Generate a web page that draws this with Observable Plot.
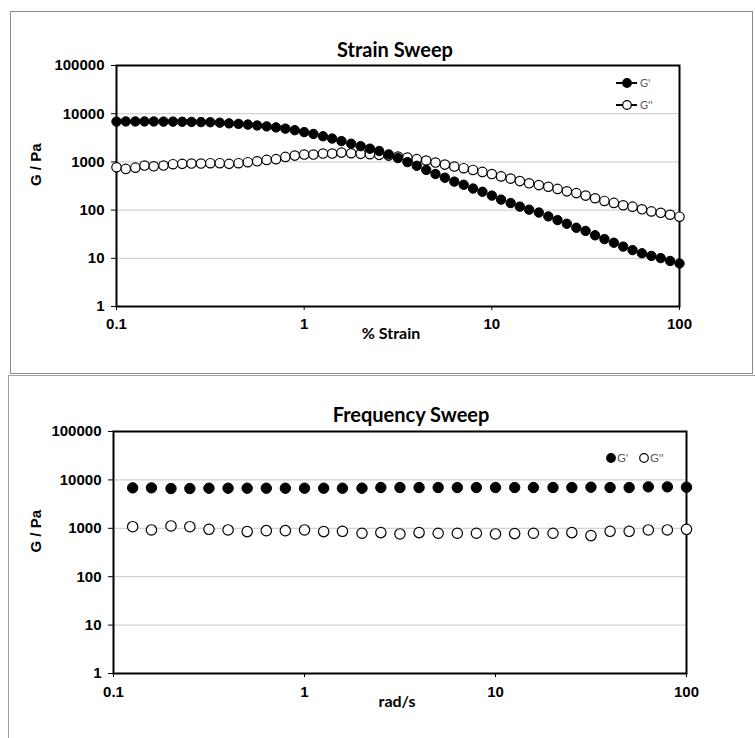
<!DOCTYPE html>
<html><head><meta charset="utf-8">
<script src="https://cdn.jsdelivr.net/npm/d3@7"></script>
<script src="https://cdn.jsdelivr.net/npm/@observablehq/plot@0.6"></script>
<style>
body{margin:0;background:#fff;}
#wrap{position:relative;width:755px;height:738px;overflow:hidden;background:#fff;}
.panel{position:absolute;border:1.5px solid #8a8a8a;box-sizing:border-box;}
.chart{position:absolute;left:0;}
</style></head><body>
<div id="wrap">
  <div class="panel" style="left:10px;top:11px;width:743px;height:363px"></div>
  <div class="panel" style="left:8px;top:375px;width:780px;height:400px;border-color:#a0a0a0"></div>
  <div id="topChart" class="chart" style="top:0"></div>
  <div id="botChart" class="chart" style="top:372px"></div>
</div>
<script>
// ---- data ----
const strainX = [0.1,0.112,0.126,0.141,0.158,0.178,0.2,0.224,0.251,0.282,0.316,0.355,0.398,0.447,0.501,0.562,0.631,0.708,0.794,0.891,
  1,1.12,1.26,1.41,1.58,1.78,2,2.24,2.51,2.82,3.16,3.55,3.98,4.47,5.01,5.62,6.31,7.08,7.94,8.91,
  10,11.2,12.6,14.1,15.8,17.8,20,22.4,25.1,28.2,31.6,35.5,39.8,44.7,50.1,56.2,63.1,70.8,79.4,89.1,100];
const strainGp = [6850,6900,6900,6900,6900,6850,6850,6800,6750,6700,6650,6500,6300,6150,5950,5700,5450,5200,4900,4550,
  4150,3800,3400,3050,2700,2380,2120,1880,1680,1430,1200,990,830,680,560,470,390,335,280,240,
  200,165,140,118,102,89,74,62,52,43,37,30,25,21,17.5,14.8,12.7,11.2,10.1,8.8,7.8];
const strainGpp = [775,715,760,840,810,840,895,910,925,925,940,940,910,940,985,1030,1100,1140,1270,1350,
  1420,1420,1490,1490,1560,1510,1470,1440,1400,1350,1290,1230,1140,1070,970,880,800,740,680,620,
  560,500,450,400,360,330,305,275,245,225,200,176,155,141,126,118,104,94,88,80,73];

const freqX = [0.126,0.158,0.2,0.251,0.316,0.398,0.501,0.631,0.794,1,1.26,1.58,2,2.51,3.16,3.98,5.01,6.31,7.94,10,
  12.6,15.8,20,25.1,31.6,39.8,50.1,63.1,79.4,100];
const freqGp = [6850,6850,6640,6640,6740,6740,6740,6740,6740,6740,6740,6740,6740,6960,6960,6960,6960,6960,6960,6960,
  6960,6960,6960,6960,7070,6960,6960,7180,7180,7070];
const freqGpp = [1080,924,1117,1080,954,924,854,895,895,924,854,868,790,815,765,815,790,790,790,765,
  777,790,790,815,707,868,868,924,924,954];

const xTicks = [0.1,1,10,100];
const xTickLabels = ["0.1","1","10","100"];
const yTicks = [1,10,100,1000,10000,100000];
const yTickLabels = ["1","10","100","1000","10000","100000"];
const gridVals = [10,100,1000,10000];
const seriesNames = ["G'","G''"];
const titles = ["Strain Sweep","Frequency Sweep"];
const xLabels = ["% Strain","rad/s"];
const yLabel = "G / Pa";

const xFmt = new Map(xTicks.map((t,i)=>[t,xTickLabels[i]]));
const yFmt = new Map(yTicks.map((t,i)=>[t,yTickLabels[i]]));

function makeChart(o){
  const gp = o.xs.map((x,i)=>({x, y:o.gp[i]}));
  const gpp = o.xs.map((x,i)=>({x, y:o.gpp[i]}));
  return Plot.plot({
    width:755, height:o.h,
    marginLeft:o.ml, marginRight:o.mr, marginTop:o.mt, marginBottom:o.mb,
    style:{background:"transparent", fontFamily:"'Liberation Sans', Arial, sans-serif", fontSize:"15px", fontWeight:"bold", color:"#000", overflow:"visible"},
    x:{type:"log", domain:[0.1,100], ticks:xTicks, tickFormat:d=>xFmt.get(d), tickSize:4, tickPadding:o.xpad, label:null},
    y:{type:"log", domain:[1,100000], ticks:yTicks, tickFormat:d=>yFmt.get(d), tickSize:5, tickPadding:7, label:null},
    marks:[
      Plot.ruleY(gridVals, {stroke:"#c8c8c8", strokeWidth:1}),
      Plot.frame({stroke:"#000", strokeWidth:2}),
      Plot.dot(gpp, {x:"x", y:"y", r:o.r, fill:"white", stroke:"#000", strokeWidth:1.2}),
      Plot.dot(gp, {x:"x", y:"y", r:o.r, fill:"black", stroke:"#000", strokeWidth:1}),
      Plot.text([o.title], {frameAnchor:"top", dx:o.tdx, dy:o.tdy, fontFamily:"Lato, 'Open Sans', sans-serif", fontSize:20, fontWeight:"bold", fill:"#000"}),
      Plot.text([o.xLabel], {frameAnchor:"bottom", dx:o.xldx, dy:o.xldy, fontFamily:"Lato, 'Open Sans', sans-serif", fontSize:16, fontWeight:"bold", fill:"#000"}),
      Plot.text([yLabel], {frameAnchor:"left", dx:o.yldx, rotate:-90, fontFamily:"'Liberation Sans', Arial, sans-serif", fontSize:15, fontWeight:"bold", fill:"#000"})
    ]
  });
}

const topSvg = makeChart({xs:strainX, gp:strainGp, gpp:strainGpp, h:372, ml:116, mr:76, mt:65, mb:66, r:4.7, xpad:8,
  title:titles[0], tdx:-3, tdy:-23, xLabel:xLabels[0], xldx:-7, xldy:32, yldx:-80});
document.getElementById("topChart").appendChild(topSvg);

const botSvg = makeChart({xs:freqX, gp:freqGp, gpp:freqGpp, h:366, ml:113, mr:69, mt:59, mb:65, r:5.2, xpad:9,
  title:titles[1], tdx:11, tdy:-24, xLabel:xLabels[1], xldx:-3, xldy:33, yldx:-77});
document.getElementById("botChart").appendChild(botSvg);

// ---- legends ----
const lt = d3.select(topSvg);
seriesNames.forEach((name,i)=>{
  const y = 83 + 22*i;
  lt.append("line").attr("x1",616).attr("x2",637).attr("y1",y).attr("y2",y).attr("stroke","#000").attr("stroke-width",2);
  lt.append("circle").attr("cx",627).attr("cy",y).attr("r",4.3).attr("fill", i===0?"#000":"#fff").attr("stroke","#000").attr("stroke-width",1.2);
  lt.append("text").attr("x",640).attr("y",y).attr("dy","0.35em").attr("text-anchor","start").text(name)
    .style("font-family","Lato, sans-serif").style("font-size","11px").style("font-weight","normal").style("fill","#595959");
});
const lb = d3.select(botSvg);
const legX = [611,644];
seriesNames.forEach((name,i)=>{
  const y = 86;
  lb.append("circle").attr("cx",legX[i]).attr("cy",y).attr("r",4.3).attr("fill", i===0?"#000":"#fff").attr("stroke","#000").attr("stroke-width",1.2);
  lb.append("text").attr("x",legX[i]+6).attr("y",y).attr("dy","0.35em").attr("text-anchor","start").text(name)
    .style("font-family","Lato, sans-serif").style("font-size","12px").style("font-weight","normal").style("fill","#595959");
});
</script>
</body></html>
